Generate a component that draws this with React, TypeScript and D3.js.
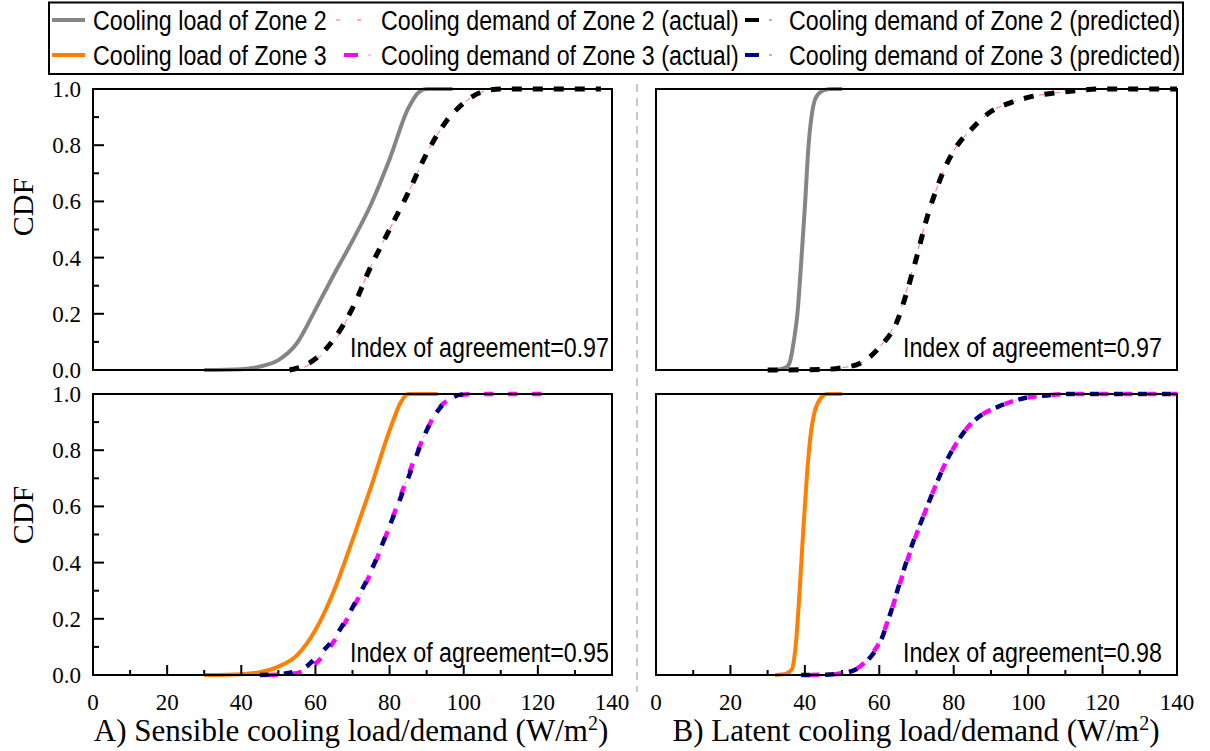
import React from "react";
import * as d3 from "d3";

// tick values / labels
const xTickValues = [0, 20, 40, 60, 80, 100, 120, 140];
const xMinorValues = [10, 30, 50, 70, 90, 110, 130];
const yTickValues = [0, 0.2, 0.4, 0.6, 0.8, 1.0];
const yTickLabels = ["0.0", "0.2", "0.4", "0.6", "0.8", "1.0"];
const yMinorValues = [0.1, 0.3, 0.5, 0.7, 0.9];

// A) sensible, zone 2  [W/m2, CDF]
const sensLoadZ2: [number, number][] = [
  [30, 0], [40, 0.003], [45, 0.012], [50, 0.035], [55, 0.095], [60, 0.215], [65, 0.34],
  [70, 0.46], [75, 0.59], [80, 0.75], [85, 0.93], [88, 0.99], [90, 1.0], [97, 1.0],
];
const sensActualZ2: [number, number][] = [
  [53, 0], [57, 0.01], [60, 0.035], [65, 0.1], [70, 0.22], [75, 0.37], [80, 0.5],
  [85, 0.63], [90, 0.77], [95, 0.88], [100, 0.95], [105, 0.99], [110, 1.0], [137, 1.0],
];
const sensPredZ2: [number, number][] = [
  [53, 0], [56, 0.01], [60, 0.04], [65, 0.11], [70, 0.22], [75, 0.37], [80, 0.5],
  [85, 0.63], [90, 0.77], [95, 0.88], [100, 0.95], [105, 0.99], [110, 1.0], [137, 1.0],
];

// B) latent, zone 2
const latLoadZ2: [number, number][] = [
  [32, 0], [35, 0.01], [36, 0.03], [37, 0.1], [38, 0.2], [39, 0.38], [40, 0.58],
  [41, 0.8], [42, 0.92], [43, 0.97], [45, 0.995], [47, 1.0], [50, 1.0],
];
const latActualZ2: [number, number][] = [
  [30, 0], [45, 0.002], [50, 0.008], [55, 0.025], [60, 0.08], [65, 0.19], [67, 0.27],
  [70, 0.41], [73, 0.55], [75, 0.63], [78, 0.73], [80, 0.78], [85, 0.86], [90, 0.92],
  [95, 0.95], [100, 0.97], [110, 0.99], [120, 1.0], [140, 1.0],
];
const latPredZ2: [number, number][] = [
  [30, 0], [45, 0.002], [50, 0.008], [55, 0.025], [60, 0.08], [65, 0.18], [67, 0.26],
  [70, 0.4], [73, 0.55], [75, 0.63], [78, 0.73], [80, 0.78], [85, 0.86], [90, 0.92],
  [95, 0.95], [100, 0.97], [110, 0.99], [120, 1.0], [140, 1.0],
];

// A) sensible, zone 3
const sensLoadZ3: [number, number][] = [
  [30, 0], [40, 0.003], [45, 0.01], [50, 0.03], [55, 0.07], [60, 0.16], [65, 0.3],
  [70, 0.48], [75, 0.67], [80, 0.87], [83, 0.97], [85, 1.0], [93, 1.0],
];
const sensActualZ3: [number, number][] = [
  [45, 0], [52, 0.002], [56, 0.01], [60, 0.04], [65, 0.12], [70, 0.235], [75, 0.365],
  [80, 0.53], [85, 0.71], [90, 0.87], [93, 0.945], [97, 0.985], [102, 1.0], [121, 1.0],
];
const sensPredZ3: [number, number][] = [
  [45, 0], [50, 0.003], [55, 0.015], [58, 0.035], [60, 0.06], [65, 0.13], [70, 0.24],
  [75, 0.37], [80, 0.53], [85, 0.7], [90, 0.87], [93, 0.94], [96, 0.98], [100, 1.0],
];

// B) latent, zone 3
const latLoadZ3: [number, number][] = [
  [32, 0], [35, 0.005], [36.5, 0.02], [37.5, 0.1], [38.5, 0.28], [39.5, 0.5], [40.5, 0.7],
  [41.5, 0.85], [42.5, 0.93], [44, 0.98], [46, 1.0], [50, 1.0],
];
const latActualZ3: [number, number][] = [
  [39, 0], [46, 0.001], [50, 0.006], [55, 0.032], [58, 0.075], [60, 0.115], [63, 0.22],
  [66, 0.345], [69, 0.465], [72, 0.57], [75, 0.67], [78, 0.76], [81, 0.83], [84, 0.885],
  [88, 0.93], [92, 0.955], [96, 0.975], [100, 0.988], [105, 0.995], [110, 1.0], [140, 1.0],
];
const latPredZ3: [number, number][] = [
  [39, 0], [45, 0.001], [50, 0.006], [55, 0.03], [58, 0.07], [60, 0.11], [63, 0.22],
  [66, 0.35], [69, 0.47], [72, 0.57], [75, 0.67], [78, 0.76], [81, 0.83], [84, 0.885],
  [88, 0.93], [92, 0.955], [96, 0.975], [100, 0.988], [105, 0.995], [110, 1.0], [140, 1.0],
];

const legendRow1 = ["Cooling load of Zone 2", "Cooling demand of Zone 2 (actual)", "Cooling demand of Zone 2 (predicted)"];
const legendRow2 = ["Cooling load of Zone 3", "Cooling demand of Zone 3 (actual)", "Cooling demand of Zone 3 (predicted)"];
const agreement = ["0.97", "0.97", "0.95", "0.98"];

const SERIF = "'Liberation Serif', 'Times New Roman', serif";
const SANS = "'Liberation Sans', Arial, sans-serif";

const styles: Record<string, any> = {
  loadZ2: {stroke: "#858585", width: 4},
  loadZ3: {stroke: "#ff8000", width: 4},
  actualZ2: {stroke: "#ff7070", width: 1, dash: "6 9"},
  predZ2: {stroke: "#000000", width: 5, dash: "10 11"},
  actualZ3: {stroke: "#ff00ff", width: 4.5, dash: "9 15", offset: -9},
  predZ3: {stroke: "#000080", width: 4.5, dash: "9 15"},
};

function Panel({x, y, series, yLabels, xTicks, text, textX, textY}: any) {
  const line = d3.line<[number, number]>()
    .x(d => x(d[0]))
    .y(d => y(d[1]))
    .curve(d3.curveMonotoneX);
  const [x0, x1] = x.range();
  const [y0, y1] = y.range();

  return (
    <g>
      {series.map((s: any, i: number) => {
        const st = styles[s.style];
        return (
          <g key={i}>
            {s.style === "actualZ3" && (
              <path d={line(s.data) || ""} fill="none" stroke="#d8b0f0" strokeWidth={1} strokeDasharray="3 7" />
            )}
            <path d={line(s.data) || ""} fill="none" stroke={st.stroke}
              strokeWidth={st.width} strokeDasharray={st.dash} strokeDashoffset={st.offset || 0} />
          </g>
        );
      })}
      {yLabels && yTickValues.map(v => (
        <line key={"yt" + v} x1={x0} x2={x0 + 11} y1={y(v)} y2={y(v)} stroke="#000" strokeWidth={2} />
      ))}
      {yLabels && yMinorValues.map(v => (
        <line key={"ym" + v} x1={x0} x2={x0 + 6} y1={y(v)} y2={y(v)} stroke="#000" strokeWidth={2} />
      ))}
      {yLabels && yTickValues.map((v, i) => (
        <text key={"yl" + v} x={x0 - 12} y={y(v) + 8} textAnchor="end"
          fontFamily={SERIF} fontSize={23}>{yTickLabels[i]}</text>
      ))}
      {xTicks && xTickValues.map(v => (
        <line key={"xt" + v} x1={x(v)} x2={x(v)} y1={y0} y2={y0 - 10} stroke="#000" strokeWidth={2} />
      ))}
      {xTicks && xMinorValues.map(v => (
        <line key={"xm" + v} x1={x(v)} x2={x(v)} y1={y0} y2={y0 - 5} stroke="#000" strokeWidth={2} />
      ))}
      {xTicks && xTickValues.map(v => (
        <text key={"xl" + v} x={x(v)} y={710} textAnchor="middle"
          fontFamily={SERIF} fontSize={23}>{v}</text>
      ))}
      <rect x={x0} y={y1} width={x1 - x0} height={y0 - y1} fill="none" stroke="#000" strokeWidth={2} />
      <text transform={`translate(${textX},${textY}) scale(0.83,1)`} fontFamily={SANS} fontSize={28}>
        {"Index of agreement=" + text}
      </text>
    </g>
  );
}

function LegendSample({kind, x, y}: any) {
  const st = styles[kind];
  if (kind === "loadZ2" || kind === "loadZ3") {
    return <line x1={x} x2={x + 33} y1={y} y2={y} stroke={st.stroke} strokeWidth={4} />;
  }
  if (kind === "actualZ2") {
    return (
      <g>
        <line x1={x} x2={x + 4} y1={y} y2={y} stroke="#ffb0b0" strokeWidth={2} />
        <line x1={x + 21} x2={x + 25} y1={y} y2={y} stroke="#ffb0b0" strokeWidth={2} />
      </g>
    );
  }
  const faint = kind === "actualZ3" ? "#ffc0ff" : "#b0b0e0";
  return (
    <g>
      <line x1={x} x2={x + 14} y1={y} y2={y} stroke={st.stroke} strokeWidth={4} />
      <line x1={x + 24} x2={x + 27} y1={y} y2={y} stroke={faint} strokeWidth={2} />
    </g>
  );
}

export default function App() {
  const xA = d3.scaleLinear().domain([0, 140]).range([93, 612]);
  const xB = d3.scaleLinear().domain([0, 140]).range([656, 1177]);
  const yTop = d3.scaleLinear().domain([0, 1]).range([370, 89]);
  const yBot = d3.scaleLinear().domain([0, 1]).range([675, 394]);

  const legendCols = [
    {marker: 52, text: 93},
    {marker: 336, text: 381},
    {marker: 745, text: 789},
  ];
  const row1Kinds = ["loadZ2", "actualZ2", "predZ2"];
  const row2Kinds = ["loadZ3", "actualZ3", "predZ3"];

  return (
    <svg width={1210} height={751} style={{position: "absolute", left: 0, top: 0, background: "#fff"}}>
      <rect width={1210} height={751} fill="#fff" />

      {/* legend */}
      <rect x={49} y={2.5} width={1134} height={71.5} fill="none" stroke="#000" strokeWidth={2} />
      {legendCols.map((c, i) => (
        <g key={"lg" + i}>
          <LegendSample kind={row1Kinds[i]} x={c.marker} y={20} />
          <text transform={`translate(${c.text},30) scale(0.83,1)`} fontFamily={SANS} fontSize={28}>{legendRow1[i]}</text>
          <LegendSample kind={row2Kinds[i]} x={c.marker + (i === 1 ? 8 : 0)} y={55} />
          <text transform={`translate(${c.text},65) scale(0.83,1)`} fontFamily={SANS} fontSize={28}>{legendRow2[i]}</text>
        </g>
      ))}

      {/* separator */}
      <line x1={637} x2={637} y1={84} y2={692} stroke="#c8c8c8" strokeWidth={2} strokeDasharray="8 6" />

      <Panel x={xA} y={yTop} yLabels xTicks={false} text={agreement[0]} textX={350} textY={357}
        series={[
          {data: sensLoadZ2, style: "loadZ2"},
          {data: sensActualZ2, style: "actualZ2"},
          {data: sensPredZ2, style: "predZ2"},
        ]} />
      <Panel x={xB} y={yTop} yLabels={false} xTicks={false} text={agreement[1]} textX={903} textY={357}
        series={[
          {data: latLoadZ2, style: "loadZ2"},
          {data: latActualZ2, style: "actualZ2"},
          {data: latPredZ2, style: "predZ2"},
        ]} />
      <Panel x={xA} y={yBot} yLabels xTicks text={agreement[2]} textX={350} textY={662}
        series={[
          {data: sensLoadZ3, style: "loadZ3"},
          {data: sensActualZ3, style: "actualZ3"},
          {data: sensPredZ3, style: "predZ3"},
        ]} />
      <Panel x={xB} y={yBot} yLabels={false} xTicks text={agreement[3]} textX={903} textY={662}
        series={[
          {data: latLoadZ3, style: "loadZ3"},
          {data: latActualZ3, style: "actualZ3"},
          {data: latPredZ3, style: "predZ3"},
        ]} />

      {/* axis titles */}
      <text transform="translate(33,207) rotate(-90)" textAnchor="middle" fontFamily={SERIF} fontSize={30}>CDF</text>
      <text transform="translate(33,515) rotate(-90)" textAnchor="middle" fontFamily={SERIF} fontSize={30}>CDF</text>
      <text x={351} y={741} textAnchor="middle" fontFamily={SERIF} fontSize={31}>
        A) Sensible cooling load/demand (W/m<tspan dy={-11} fontSize={20}>2</tspan><tspan dy={11}>)</tspan>
      </text>
      <text x={916} y={741} textAnchor="middle" fontFamily={SERIF} fontSize={31}>
        B) Latent cooling load/demand (W/m<tspan dy={-11} fontSize={20}>2</tspan><tspan dy={11}>)</tspan>
      </text>
    </svg>
  );
}
